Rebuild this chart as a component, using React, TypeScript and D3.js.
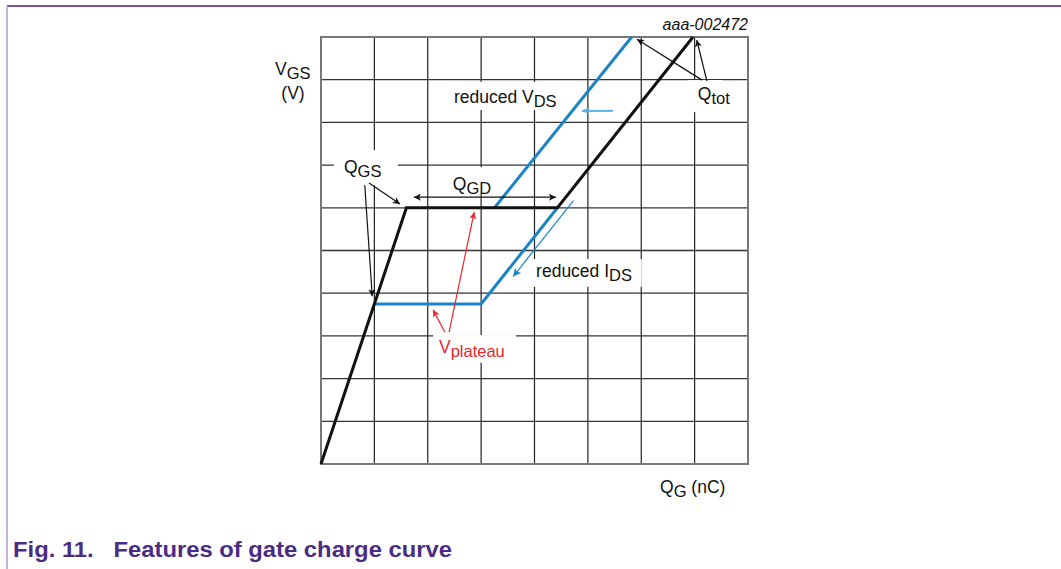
import React from 'react';
import * as d3 from 'd3';

// grid ticks (arbitrary units, 8 columns x 10 rows)
const qTicks = [0, 1, 2, 3, 4, 5, 6, 7, 8];
const vTicks = [0, 1, 2, 3, 4, 5, 6, 7, 8, 9, 10];

// gate charge curves
const qNormal = [0, 1.6, 4.43, 6.97];
const vNormal = [0, 6, 6, 10];
const qLowIds = [1, 3, 4.43];
const vLowIds = [3.75, 3.75, 6];
const qLowVds = [3.25, 5.82];
const vLowVds = [6, 10];

// annotation labels
const labelText = ['Q', 'Q', 'reduced V', 'Q', 'reduced I', 'V'];
const labelSub = ['GS', 'GD', 'DS', 'tot', 'DS', 'plateau'];
const labelQ = [0.43, 2.47, 2.49, 7.06, 4.03, 2.21];
const labelV = [6.81, 6.42, 8.45, 8.52, 4.38, 2.6];
const labelColor = ['#111', '#111', '#111', '#111', '#111', '#e8262b'];
// white boxes behind labels: [q0, q1, v0, v1]
const boxes = [
  [0.24, 1.44, 6.53, 7.35],
  [2.29, 3.3, 6.33, 6.95],
  [2.38, 4.62, 8.29, 8.95],
  [6.88, 7.53, 8.24, 8.99],
  [3.92, 6.01, 4.15, 4.8],
  [2.1, 3.65, 2.37, 3.02],
];

// arrows: [q0, v0, q1, v1, kind]
const arrows: [number, number, number, number, string][] = [
  [0.9, 6.58, 1.48, 6.09, 'black'],
  [0.82, 6.53, 0.96, 3.93, 'black'],
  [7.14, 8.99, 5.92, 9.95, 'black'],
  [7.23, 8.97, 7.04, 9.93, 'black'],
  [2.32, 3.09, 2.1, 3.61, 'red'],
  [2.4, 3.09, 2.87, 5.9, 'red'],
  [5.47, 8.27, 4.89, 8.27, 'lightblue'],
  [4.73, 6.17, 3.6, 4.39, 'blue'],
];
const gdArrow = [1.74, 4.4, 6.25];

const W = 1061;
const H = 569;
const left = 321;
const top = 37;
const size = 427;

const colors: Record<string, string> = {
  black: '#111',
  red: '#e8262b',
  blue: '#1a84c7',
  lightblue: '#5cb0e0',
};

export default function App() {
  const x = d3.scaleLinear().domain([0, 8]).range([left, left + size]);
  const y = d3.scaleLinear().domain([0, 10]).range([top + size, top]);
  const line = d3.line<[number, number]>().x(d => x(d[0])).y(d => y(d[1]));
  const zip = (a: number[], b: number[]) => a.map((q, i) => [q, b[i]] as [number, number]);

  const font = '"Liberation Sans", Arial, sans-serif';
  const fs = 17.5;
  const sub = 16.5;

  return (
    <div style={{ position: 'absolute', left: 0, top: 0 }}>
      <svg width={W} height={H} style={{ display: 'block', background: '#fff' }} fontFamily={font}>
        <defs>
          {Object.keys(colors).map(k => (
            <marker key={k} id={`head-${k}`} viewBox="0 0 10 10" refX="10" refY="5"
              markerWidth={k === 'blue' ? 10 : 9} markerHeight={k === 'blue' ? 8 : 7}
              markerUnits="userSpaceOnUse" orient="auto-start-reverse">
              <path d="M0,0 L10,5 L0,10 L2.5,5 Z" fill={colors[k]} />
            </marker>
          ))}
        </defs>

        {/* page frame */}
        <line x1={7} x2={W} y1={6} y2={6} stroke="#7a4fae" strokeWidth={2} />
        <line x1={7} x2={7} y1={6} y2={H} stroke="#c3b2dc" strokeWidth={2} />

        {/* grid */}
        <g>
          {qTicks.slice(1, -1).map(t => (
            <line key={`q${t}`} x1={x(t)} x2={x(t)} y1={y(0)} y2={y(10)} stroke="#222" strokeWidth={1.2} />
          ))}
          {vTicks.slice(1, -1).map(t => (
            <line key={`v${t}`} x1={x(0)} x2={x(8)} y1={y(t)} y2={y(t)} stroke="#333" strokeWidth={1.3} />
          ))}
          <rect x={x(0)} y={y(10)} width={x(8) - x(0)} height={y(0) - y(10)} fill="none" stroke="#777" strokeWidth={2} />
        </g>

        {/* label backgrounds */}
        {boxes.map((b, i) => (
          <rect key={i} x={x(b[0])} y={y(b[3])} width={x(b[1]) - x(b[0])} height={y(b[2]) - y(b[3])} fill="#fff" />
        ))}

        {/* curves */}
        <path d={line(zip(qLowIds, vLowIds)) || ''} fill="none" stroke="#1a84c7" strokeWidth={3} />
        <path d={line(zip(qLowVds, vLowVds)) || ''} fill="none" stroke="#1a84c7" strokeWidth={3} />
        <path d={line(zip(qNormal, vNormal)) || ''} fill="none" stroke="#111" strokeWidth={3} />

        {/* arrows */}
        {arrows.map((a, i) => (
          <line key={i} x1={x(a[0])} y1={y(a[1])} x2={x(a[2])} y2={y(a[3])}
            stroke={colors[a[4]]} strokeWidth={a[4] === 'lightblue' ? 2 : 1.2}
            markerEnd={`url(#head-${a[4]})`} />
        ))}
        <line x1={x(gdArrow[0])} x2={x(gdArrow[1])} y1={y(gdArrow[2])} y2={y(gdArrow[2])}
          stroke="#111" strokeWidth={1.2}
          markerStart="url(#head-black)" markerEnd="url(#head-black)" />

        {/* labels */}
        {labelText.map((t, i) => (
          <text key={i} x={x(labelQ[i])} y={y(labelV[i])} fontSize={fs} fill={labelColor[i]}>
            {t}
            <tspan fontSize={sub} dy={4}>{labelSub[i]}</tspan>
          </text>
        ))}

        <text x={x(8)} y={30} textAnchor="end" fontSize={16} fontStyle="italic" fill="#111">aaa-002472</text>

        {/* axis titles */}
        <text x={left - 46} y={75} fontSize={fs} fill="#111">
          V<tspan fontSize={sub} dy={4}>GS</tspan>
        </text>
        <text x={left - 28} y={99} fontSize={fs} fill="#111" textAnchor="middle">(V)</text>
        <text x={660} y={top + size + 29} fontSize={fs} fill="#111">
          Q<tspan fontSize={sub} dy={4}>G</tspan><tspan dy={-4}> (nC)</tspan>
        </text>

        {/* caption */}
        <text x={13} y={557} fontSize={22} fontWeight="bold" fill="#4a2c82"
          fontFamily='"Liberation Sans Narrow", "Arial Narrow", "Liberation Sans", sans-serif'
          textLength={439} lengthAdjust="spacingAndGlyphs" xmlSpace="preserve">
          Fig. 11.   Features of gate charge curve
        </text>
      </svg>
    </div>
  );
}
